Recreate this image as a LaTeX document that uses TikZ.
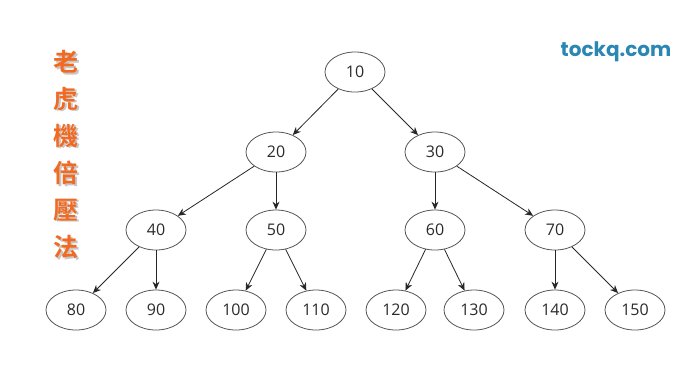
\documentclass[tikz,border=0pt]{standalone}
\usepackage{fontspec}
\setmainfont{Open Sans}
\newfontfamily\cjkfont{Noto Sans CJK TC Bold}
\newfontfamily\logofont{Poppins}
\usetikzlibrary{arrows.meta,shapes.geometric}
\definecolor{nodeline}{HTML}{555555}
\definecolor{txt}{HTML}{2A2A2A}
\definecolor{orng}{HTML}{F26A21}
\definecolor{logoblue}{HTML}{2A87B3}
\tikzset{
  tnode/.style={ellipse,draw=nodeline,line width=0.8pt,minimum width=60pt,minimum height=40pt,inner sep=0pt,text=txt,font=\fontsize{16}{16}\selectfont},
  edge/.style={draw=black!85,line width=0.8pt,-{Stealth[length=8pt,width=7pt]}},
  cjk/.style={text=orng,font=\cjkfont\fontsize{25}{25}\selectfont},
  cjkshadow/.style={text=black!22,font=\cjkfont\fontsize{25}{25}\selectfont}
}
\begin{document}
\begin{tikzpicture}[x=1pt,y=-1pt]
\useasboundingbox (0,0) rectangle (700,365);
\node[tnode] (n10) at (355,72) {10};
\node[tnode] (n20) at (276,152) {20};
\node[tnode] (n30) at (435,152) {30};
\node[tnode] (n40) at (156,230) {40};
\node[tnode] (n50) at (276,230) {50};
\node[tnode] (n60) at (435,230) {60};
\node[tnode] (n70) at (555,230) {70};
\node[tnode] (n80) at (76,310) {80};
\node[tnode] (n90) at (156,310) {90};
\node[tnode] (n100) at (236,310) {100};
\node[tnode] (n110) at (316,310) {110};
\node[tnode] (n120) at (396,310) {120};
\node[tnode] (n130) at (474,310) {130};
\node[tnode] (n140) at (555,310) {140};
\node[tnode] (n150) at (635,310) {150};
\draw[edge] (n10) -- (n20);
\draw[edge] (n10) -- (n30);
\draw[edge] (n20) -- (n40);
\draw[edge] (n20) -- (n50);
\draw[edge] (n30) -- (n60);
\draw[edge] (n30) -- (n70);
\draw[edge] (n40) -- (n80);
\draw[edge] (n40) -- (n90);
\draw[edge] (n50) -- (n100);
\draw[edge] (n50) -- (n110);
\draw[edge] (n60) -- (n120);
\draw[edge] (n60) -- (n130);
\draw[edge] (n70) -- (n140);
\draw[edge] (n70) -- (n150);
\foreach \c/\y [count=\i] in {老/62,虎/99,機/136,倍/173,壓/210,法/247}{
  \node[cjkshadow] (s\i) at (67.5,\y+1.5) {\c};
  \node[cjk] (c\i) at (66,\y) {\c};
}
\node[text=logoblue,font=\logofont\bfseries\fontsize{20}{20}\selectfont] (logo) at (616,52) {tockq.com};
\end{tikzpicture}
\end{document}
